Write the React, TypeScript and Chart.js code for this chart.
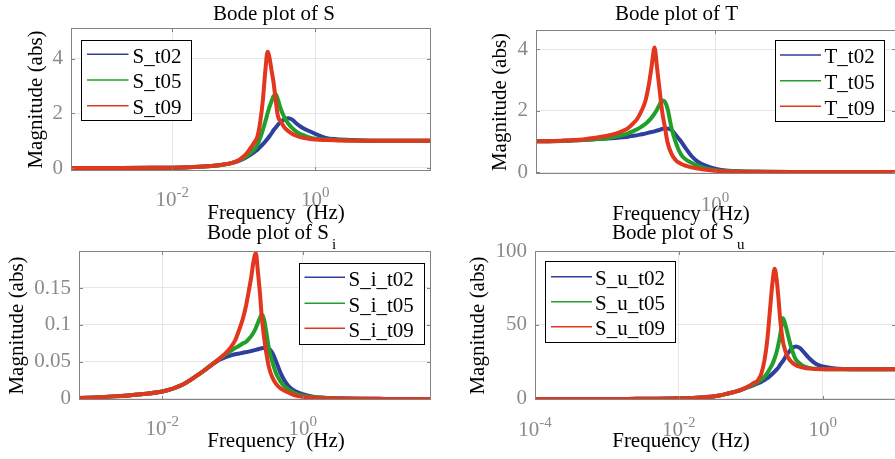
import React, { useEffect, useRef } from 'react';
import { Chart, registerables } from 'chart.js';

Chart.register(...registerables);

// ---------------- data ----------------
const freqHz = [0.0001, 0.0005, 0.002, 0.005, 0.01, 0.02, 0.035, 0.05, 0.065, 0.08, 0.095, 0.11, 0.125, 0.14, 0.155, 0.17, 0.185, 0.2, 0.215, 0.23, 0.245, 0.26, 0.28, 0.3, 0.33, 0.37, 0.42, 0.48, 0.55, 0.65, 0.8, 1.0, 1.4, 2, 3.5, 7, 15, 40, 100];

const S_t02 = [0, 0, 0.002, 0.005, 0.01, 0.035, 0.075, 0.12, 0.17, 0.23, 0.31, 0.4, 0.49, 0.58, 0.67, 0.77, 0.87, 0.97, 1.07, 1.17, 1.27, 1.38, 1.48, 1.58, 1.7, 1.78, 1.82, 1.76, 1.62, 1.48, 1.36, 1.25, 1.1, 1.05, 1.02, 1.0, 1.0, 1.0, 1.0];
const S_t05 = [0, 0, 0.002, 0.005, 0.01, 0.035, 0.075, 0.12, 0.17, 0.24, 0.33, 0.44, 0.56, 0.68, 0.85, 1.1, 1.4, 1.7, 2.0, 2.25, 2.45, 2.62, 2.7, 2.5, 2.15, 1.85, 1.62, 1.45, 1.32, 1.22, 1.13, 1.07, 1.04, 1.02, 1.01, 1.0, 1.0, 1.0, 1.0];
const S_t09 = [0, 0, 0.002, 0.005, 0.01, 0.035, 0.075, 0.12, 0.17, 0.25, 0.38, 0.54, 0.74, 0.93, 1.15, 1.7, 2.5, 3.55, 4.25, 4.0, 3.55, 3.15, 2.45, 1.9, 1.7, 1.48, 1.35, 1.24, 1.17, 1.11, 1.07, 1.04, 1.02, 1.01, 1.0, 1.0, 1.0, 1.0, 1.0];

const T_t02 = [1.0, 1.0, 1.0, 1.0, 1.0, 1.01, 1.04, 1.07, 1.09, 1.11, 1.13, 1.15, 1.18, 1.2, 1.23, 1.25, 1.28, 1.3, 1.32, 1.35, 1.37, 1.4, 1.42, 1.41, 1.37, 1.2, 1.0, 0.75, 0.52, 0.33, 0.2, 0.11, 0.04, 0.02, 0.008, 0, 0, 0, 0];
const T_t05 = [1.0, 1.0, 1.0, 1.0, 1.0, 1.01, 1.04, 1.07, 1.1, 1.15, 1.2, 1.26, 1.33, 1.4, 1.48, 1.56, 1.66, 1.77, 1.9, 2.04, 2.2, 2.33, 2.28, 2.05, 1.45, 0.95, 0.58, 0.4, 0.3, 0.2, 0.11, 0.06, 0.03, 0.015, 0.005, 0, 0, 0, 0];
const T_t09 = [1.0, 1.0, 1.0, 1.0, 1.0, 1.02, 1.06, 1.12, 1.18, 1.25, 1.33, 1.43, 1.58, 1.75, 2.0, 2.3, 2.8, 3.45, 4.05, 3.35, 2.65, 2.0, 1.45, 0.95, 0.6, 0.38, 0.27, 0.2, 0.15, 0.11, 0.07, 0.04, 0.02, 0.01, 0.004, 0, 0, 0, 0];

const Si_t02 = [0.0001, 0.0008, 0.0035, 0.0065, 0.01, 0.02, 0.035, 0.0455, 0.053, 0.0565, 0.059, 0.0605, 0.0615, 0.0625, 0.0633, 0.064, 0.0648, 0.0656, 0.0664, 0.0672, 0.068, 0.0686, 0.069, 0.069, 0.068, 0.062, 0.05, 0.036, 0.025, 0.016, 0.01, 0.0065, 0.003, 0.0018, 0.0008, 0.0003, 0.0001, 0, 0];
const Si_t05 = [0.0001, 0.0008, 0.0035, 0.0065, 0.01, 0.02, 0.035, 0.046, 0.054, 0.0605, 0.065, 0.069, 0.072, 0.075, 0.077, 0.081, 0.085, 0.09, 0.096, 0.103, 0.109, 0.114, 0.108, 0.093, 0.068, 0.05, 0.034, 0.024, 0.017, 0.012, 0.007, 0.0045, 0.0025, 0.0015, 0.0007, 0.0003, 0.0001, 0, 0];
const Si_t09 = [0.0001, 0.0008, 0.0035, 0.0065, 0.01, 0.02, 0.035, 0.046, 0.0545, 0.062, 0.07, 0.08, 0.094, 0.108, 0.125, 0.145, 0.165, 0.187, 0.197, 0.172, 0.145, 0.113, 0.085, 0.065, 0.043, 0.029, 0.02, 0.0145, 0.011, 0.008, 0.0045, 0.003, 0.0015, 0.001, 0.0005, 0.0002, 0.0001, 0, 0];

const Su_t02 = [0, 0, 0.05, 0.15, 0.4, 1.0, 2.2, 3.9, 5.3, 6.8, 8.1, 9.3, 10.5, 11.5, 12.8, 14, 15.5, 17, 18.5, 20, 21.5, 23.5, 25.5, 28, 31, 34, 35.4, 34.5, 31.5, 27.5, 23.8, 22, 20.8, 20.3, 20.1, 20, 20, 20, 20];
const Su_t05 = [0, 0, 0.05, 0.15, 0.4, 1.0, 2.2, 3.9, 5.3, 6.9, 8.5, 10, 11.5, 13, 15, 17.5, 20.5, 23.5, 27.5, 32, 38, 45, 54.5, 51, 43, 34, 27, 24, 22, 21, 20.4, 20.2, 20, 20, 20, 20, 20, 20, 20];
const Su_t09 = [0, 0, 0.05, 0.15, 0.4, 1.0, 2.2, 3.9, 5.3, 7.0, 8.8, 10.8, 12.5, 17, 26, 40, 60, 78, 88, 80, 66, 51, 39, 33, 28, 25, 23, 21.8, 21, 20.5, 20.2, 20.1, 20, 20, 20, 20, 20, 20, 20];

const seriesSuffixes = ['t02', 't05', 't09'];

const xTicks_S = [0.01, 1];
const xTicks_T = [0.01, 1];
const xTicks_Si = [0.01, 1];
const xTicks_Su = [0.0001, 0.01, 1];
const yTicks_S = [0, 2, 4];
const yTicks_T = [0, 2, 4];
const yTicks_Si = [0, 0.05, 0.1, 0.15];
const yTicks_Su = [0, 50, 100];

// ---------------- styles ----------------
const FONT = "'Liberation Serif', 'Times New Roman', serif";
const COLORS = ['#2E3F9E', '#20A02A', '#E3361F'];
const TICK_GREY = '#8a8a8a';
const BOX_GREY = '#838383';
const GRID = '#e6e6e6';
const CW = 900;
const CH = 459;

const panels = [
  {
    title: 'Bode plot of S', sub: '', prefix: 'S_', series: [S_t02, S_t05, S_t09],
    xTicks: xTicks_S, yTicks: yTicks_S, xMin: 0.000383, xMax: 41.5, yMin: -0.11, yMax: 5.12,
    area: { l: 71, t: 28, r: 431, b: 171 }, yLabelX: 36.7,
    titleX: 213, titleY: 20, xLabelX: 276, xLabelY: 219, xTickY: 206,
    legend: { x: 81, y: 39.5, w: 110, h: 80, rows: [54.3, 80, 105.7], lx1: 87, lx2: 128.5, tx: 132.5 },
  },
  {
    title: 'Bode plot of T', sub: '', prefix: 'T_', series: [T_t02, T_t05, T_t09],
    xTicks: xTicks_T, yTicks: yTicks_T, xMin: 0.01057, xMax: 99.5, yMin: -0.065, yMax: 4.62,
    area: { l: 536, t: 30, r: 896, b: 174 }, yLabelX: 500,
    titleX: 615, titleY: 20, xLabelX: 681, xLabelY: 220, xTickY: 211,
    legend: { x: 775, y: 40, w: 108.5, h: 81, rows: [55, 80.7, 106.3], lx1: 780, lx2: 821, tx: 824.5 },
  },
  {
    title: 'Bode plot of S', sub: 'i', prefix: 'S_i_', series: [Si_t02, Si_t05, Si_t09],
    xTicks: xTicks_Si, yTicks: yTicks_Si, xMin: 0.00065, xMax: 67.3, yMin: -0.0014, yMax: 0.2,
    area: { l: 79, t: 251, r: 431, b: 400 }, yLabelX: 17,
    titleX: 207, titleY: 239, xLabelX: 276, xLabelY: 447, xTickY: 435,
    legend: { x: 298.5, y: 262.5, w: 125, h: 81, rows: [277.3, 303.3, 328.3], lx1: 304.5, lx2: 345, tx: 348.5 },
  },
  {
    title: 'Bode plot of S', sub: 'u', prefix: 'S_u_', series: [Su_t02, Su_t05, Su_t09],
    xTicks: xTicks_Su, yTicks: yTicks_Su, xMin: 0.0001, xMax: 10.47, yMin: -0.7, yMax: 100,
    area: { l: 535, t: 251, r: 896, b: 400 }, yLabelX: 478,
    titleX: 612, titleY: 239, xLabelX: 681, xLabelY: 447, xTickY: 435.5,
    legend: { x: 545, y: 261, w: 130, h: 81, rows: [276.7, 301.7, 326.7], lx1: 551, lx2: 592, tx: 595 },
  },
];

function decadeExponent(v: number) {
  return String(Math.round(Math.log10(v)));
}

function makeDecor(p: any) {
  return {
    id: 'matlabDecor',
    afterDatasetsDraw(chart: any) {
      const ctx = chart.ctx;
      const a = chart.chartArea;
      const xs = chart.scales.x;
      const ys = chart.scales.y;
      ctx.save();
      // axes box
      ctx.strokeStyle = BOX_GREY;
      ctx.lineWidth = 1;
      ctx.strokeRect(Math.round(a.left) + 0.5, Math.round(a.top) + 0.5, Math.round(a.right - a.left) - 1, Math.round(a.bottom - a.top) - 1);
      // inward tick marks
      ctx.beginPath();
      xs.ticks.forEach((t: any) => {
        const px = Math.round(xs.getPixelForValue(t.value)) + 0.5;
        ctx.moveTo(px, a.top); ctx.lineTo(px, a.top + 4);
        ctx.moveTo(px, a.bottom); ctx.lineTo(px, a.bottom - 4);
      });
      ys.ticks.forEach((t: any) => {
        const py = Math.round(ys.getPixelForValue(t.value)) + 0.5;
        ctx.moveTo(a.left, py); ctx.lineTo(a.left + 4, py);
        ctx.moveTo(a.right, py); ctx.lineTo(a.right - 4, py);
      });
      ctx.stroke();

      // x tick labels: 10 with a raised exponent
      ctx.fillStyle = TICK_GREY;
      ctx.textAlign = 'left';
      ctx.textBaseline = 'alphabetic';
      xs.ticks.forEach((t: any) => {
        const px = xs.getPixelForValue(t.value);
        const exp = decadeExponent(t.value);
        ctx.font = `21px ${FONT}`;
        const wb = ctx.measureText('10').width;
        ctx.font = `15px ${FONT}`;
        const we = ctx.measureText(exp).width;
        const x0 = px - (wb + we) / 2;
        ctx.font = `21px ${FONT}`;
        ctx.fillText('10', x0, p.xTickY);
        ctx.font = `15px ${FONT}`;
        ctx.fillText(exp, x0 + wb, p.xTickY - 9);
      });

      // legend
      const lg = p.legend;
      ctx.fillStyle = '#ffffff';
      ctx.fillRect(lg.x, lg.y, lg.w, lg.h);
      ctx.strokeStyle = '#000000';
      ctx.lineWidth = 1;
      ctx.strokeRect(Math.round(lg.x) + 0.5, Math.round(lg.y) + 0.5, Math.round(lg.w), Math.round(lg.h));
      ctx.font = `21px ${FONT}`;
      ctx.textAlign = 'left';
      ctx.textBaseline = 'alphabetic';
      chart.data.datasets.forEach((ds: any, i: number) => {
        const y = lg.rows[i];
        ctx.strokeStyle = ds.borderColor;
        ctx.lineWidth = 1.5;
        ctx.beginPath();
        ctx.moveTo(lg.lx1, y);
        ctx.lineTo(lg.lx2, y);
        ctx.stroke();
        ctx.fillStyle = '#000000';
        ctx.fillText(ds.label, lg.tx, y + 8.3);
      });

      // title (with optional subscript)
      ctx.fillStyle = '#000000';
      ctx.font = `21px ${FONT}`;
      ctx.textAlign = 'left';
      ctx.fillText(p.title, p.titleX, p.titleY);
      if (p.sub) {
        const w = ctx.measureText(p.title).width;
        ctx.font = `15px ${FONT}`;
        ctx.fillText(p.sub, p.titleX + w + 3, p.titleY + 10);
      }

      // x axis label
      ctx.font = `21px ${FONT}`;
      ctx.textAlign = 'center';
      ctx.fillText('Frequency  (Hz)', p.xLabelX, p.xLabelY);
      ctx.restore();
    },
  };
}

function Panel({ p }: { p: any }) {
  const ref = useRef<HTMLCanvasElement | null>(null);
  useEffect(() => {
    if (!ref.current) return;
    const padLeft = p.yLabelX - 12.6;
    const datasets = p.series.map((arr: number[], i: number) => ({
      label: p.prefix + seriesSuffixes[i],
      data: freqHz.map((f, j) => ({ x: f, y: arr[j] })),
      borderColor: COLORS[i],
      backgroundColor: COLORS[i],
      borderWidth: 4,
      pointRadius: 0,
      fill: false,
      cubicInterpolationMode: 'monotone',
      order: 2 - i,
    }));
    const chart = new Chart(ref.current, {
      type: 'line',
      data: { datasets },
      options: {
        animation: false,
        responsive: false,
        maintainAspectRatio: false,
        devicePixelRatio: 1,
        events: [],
        layout: { padding: { left: padLeft, top: p.area.t, right: CW - p.area.r, bottom: 0 } },
        plugins: { legend: { display: false }, tooltip: { enabled: false }, title: { display: false } },
        scales: {
          x: {
            type: 'logarithmic',
            min: p.xMin,
            max: p.xMax,
            afterBuildTicks: (s: any) => {
              s.ticks = p.xTicks.filter((v: number) => v >= p.xMin && v <= p.xMax).map((v: number) => ({ value: v }));
            },
            afterFit: (s: any) => { s.height = CH - p.area.b; },
            ticks: {
              display: false, autoSkip: false, maxRotation: 0, minRotation: 0,
              color: TICK_GREY, font: { family: FONT, size: 21 },
              callback: (v: any) => '10^' + decadeExponent(Number(v)),
            },
            grid: { color: GRID, lineWidth: 1, drawTicks: false },
            border: { display: false },
          },
          y: {
            type: 'linear',
            min: p.yMin,
            max: p.yMax,
            afterBuildTicks: (s: any) => { s.ticks = p.yTicks.map((v: number) => ({ value: v })); },
            afterFit: (s: any) => { s.width = p.area.l - padLeft; },
            ticks: {
              padding: 8, color: TICK_GREY, font: { family: FONT, size: 21 },
              callback: (v: any) => String(v),
            },
            grid: { color: GRID, lineWidth: 1, drawTicks: false },
            border: { display: false },
            title: { display: true, text: 'Magnitude (abs)', color: '#000000', font: { family: FONT, size: 21 }, padding: 0 },
          },
        },
      },
      plugins: [makeDecor(p)],
    } as any);
    return () => chart.destroy();
  }, []);
  return <canvas ref={ref} width={CW} height={CH} style={{ position: 'absolute', left: 0, top: 0 }} />;
}

export default function App() {
  return (
    <div style={{ position: 'fixed', left: 0, top: 0, width: 895, height: 459, overflow: 'hidden', background: '#ffffff' }}>
      {panels.map((p, i) => <Panel key={i} p={p} />)}
    </div>
  );
}
